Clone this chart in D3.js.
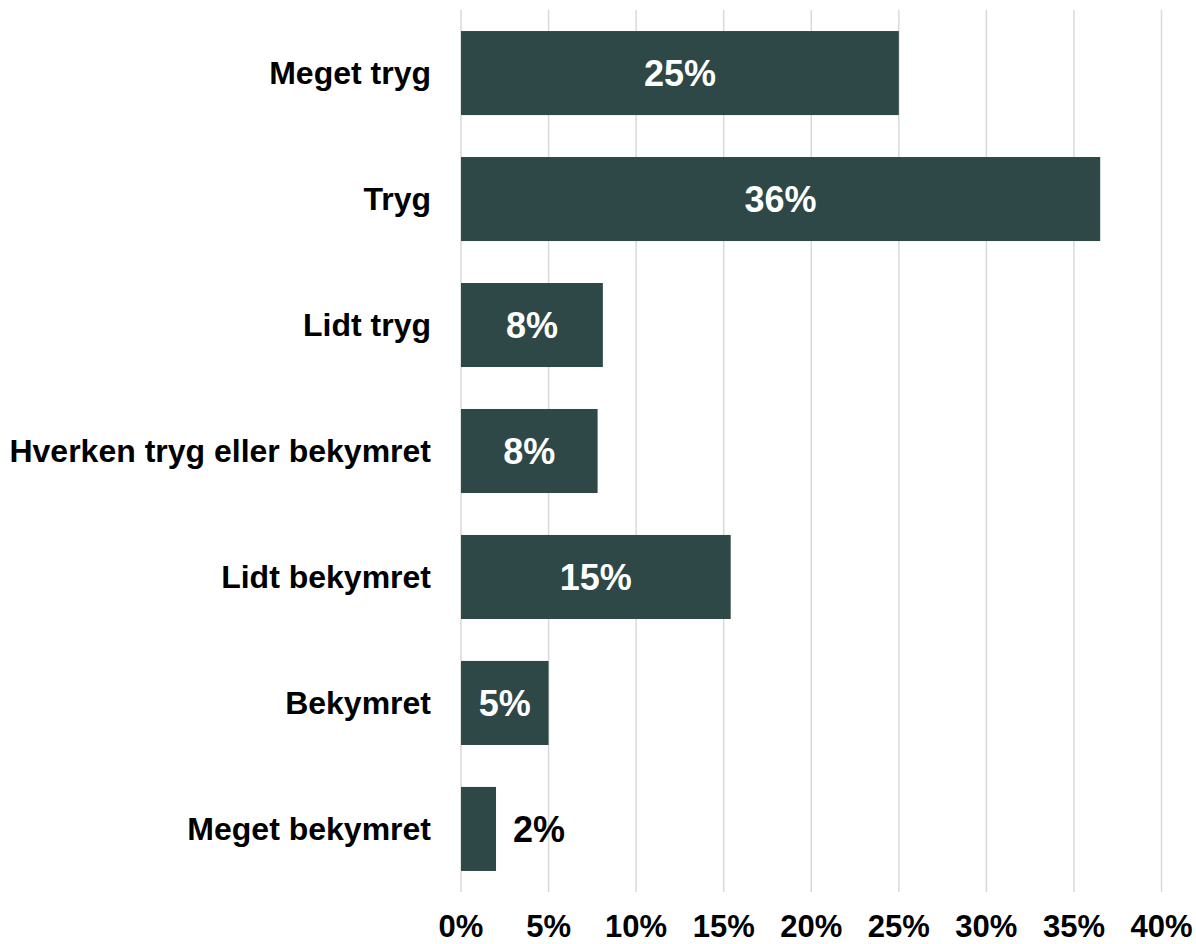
<!DOCTYPE html>
<html>
<head>
<meta charset="utf-8">
<script src="https://cdn.jsdelivr.net/npm/d3@7"></script>
<style>
  body { margin: 0; background: #fff; }
  svg { display: block; }
</style>
</head>
<body>
<script>
  const categories = ["Meget tryg", "Tryg", "Lidt tryg", "Hverken tryg eller bekymret", "Lidt bekymret", "Bekymret", "Meget bekymret"];
  const values = [25.0, 36.5, 8.1, 7.8, 15.4, 5.0, 2.0];
  const labels = ["25%", "36%", "8%", "8%", "15%", "5%", "2%"];
  const ticks = [0, 5, 10, 15, 20, 25, 30, 35, 40];

  const width = 1196, height = 944;
  const barColor = "#2e4747";

  const x = d3.scaleLinear().domain([0, 40]).range([461, 1161.5]);
  const y = d3.scaleBand().domain(categories).range([10, 892])
      .paddingInner(0.333)
      .paddingOuter(0.167);

  const svg = d3.select("body").append("svg")
      .attr("width", width)
      .attr("height", height)
      .attr("font-family", "Liberation Sans, Arial, sans-serif")
      .attr("font-weight", "bold");

  // vertical gridlines
  svg.append("g")
    .selectAll("line")
    .data(ticks)
    .join("line")
      .attr("x1", d => x(d)).attr("x2", d => x(d))
      .attr("y1", 10).attr("y2", 892)
      .attr("stroke", "#d9d9d9")
      .attr("stroke-width", 1.5);

  // bars
  svg.append("g")
    .selectAll("rect")
    .data(categories)
    .join("rect")
      .attr("x", x(0))
      .attr("y", d => y(d))
      .attr("width", (d, i) => x(values[i]) - x(0))
      .attr("height", y.bandwidth())
      .attr("fill", barColor);

  // value labels: inside bar if wide enough, else to the right
  svg.append("g")
    .selectAll("text")
    .data(categories)
    .join("text")
      .attr("x", (d, i) => values[i] > 3 ? (x(0) + x(values[i])) / 2 : x(values[i]) + 17)
      .attr("y", d => y(d) + y.bandwidth() / 2)
      .attr("dy", "0.35em")
      .attr("text-anchor", (d, i) => values[i] > 3 ? "middle" : "start")
      .attr("fill", (d, i) => values[i] > 3 ? "#fff" : "#000")
      .attr("font-size", 36)
      .text((d, i) => labels[i]);

  // category labels
  svg.append("g")
    .selectAll("text")
    .data(categories)
    .join("text")
      .attr("x", 431)
      .attr("y", d => y(d) + y.bandwidth() / 2)
      .attr("dy", "0.35em")
      .attr("text-anchor", "end")
      .attr("font-size", 32)
      .attr("fill", "#000")
      .text(d => d);

  // x tick labels
  svg.append("g")
    .selectAll("text")
    .data(ticks)
    .join("text")
      .attr("x", d => x(d))
      .attr("y", 937)
      .attr("text-anchor", "middle")
      .attr("font-size", 31)
      .attr("fill", "#000")
      .text(d => d + "%");
</script>
</body>
</html>
